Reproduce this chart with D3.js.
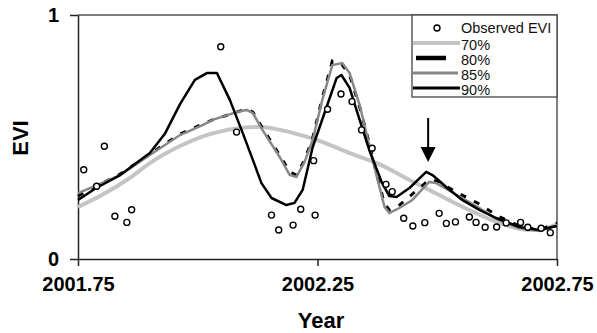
<!DOCTYPE html>
<html lang="en">
    <head>
        <meta charset="utf-8">
        <title>EVI fits</title>
        <script type="text/javascript" src="https://cdnjs.cloudflare.com/ajax/libs/d3/7.8.5/d3.min.js"></script>
        <style>
        body { margin: 0; background: #fff; }
        svg text { font-family: "Liberation Sans", Arial, sans-serif; }
        </style>
    </head>
    <body>
        <script type="text/javascript">

            //observed EVI samples
            var obsYear = [2001.762, 2001.789, 2001.805, 2001.827, 2001.852, 2001.862, 2002.048, 2002.081,
                2002.154, 2002.169, 2002.199, 2002.215, 2002.245, 2002.242, 2002.271, 2002.299, 2002.322,
                2002.342, 2002.364, 2002.393, 2002.406, 2002.430, 2002.449, 2002.474, 2002.504, 2002.519,
                2002.538, 2002.567, 2002.581, 2002.600, 2002.624, 2002.644, 2002.674, 2002.689, 2002.717, 2002.736];
            var obsEvi = [0.366, 0.298, 0.462, 0.175, 0.150, 0.202, 0.870, 0.520,
                0.180, 0.119, 0.139, 0.204, 0.180, 0.403, 0.614, 0.676, 0.645,
                0.529, 0.454, 0.306, 0.276, 0.167, 0.135, 0.149, 0.187, 0.146,
                0.152, 0.172, 0.150, 0.130, 0.131, 0.148, 0.150, 0.130, 0.126, 0.108];

            //fitted curves
            var year70 = [2001.750, 2001.796, 2001.858, 2001.900, 2001.963, 2002.025, 2002.088, 2002.129, 2002.192,
                2002.254, 2002.317, 2002.379, 2002.442, 2002.504, 2002.567, 2002.629, 2002.692, 2002.723, 2002.750];
            var evi70 = [0.213, 0.258, 0.332, 0.393, 0.463, 0.512, 0.537, 0.541, 0.520,
                0.484, 0.434, 0.389, 0.324, 0.262, 0.201, 0.148, 0.119, 0.123, 0.143];

            var year85 = [2001.750, 2001.790, 2001.838, 2001.900, 2001.963, 2002.010, 2002.031, 2002.081, 2002.102,
                2002.115, 2002.135, 2002.171, 2002.192, 2002.206, 2002.223, 2002.240, 2002.260, 2002.281, 2002.302,
                2002.317, 2002.338, 2002.358, 2002.373, 2002.390, 2002.400, 2002.421, 2002.448, 2002.483, 2002.498,
                2002.552, 2002.588, 2002.623, 2002.671, 2002.713, 2002.750];
            var evi85 = [0.270, 0.303, 0.344, 0.426, 0.508, 0.549, 0.570, 0.602, 0.611,
                0.598, 0.529, 0.418, 0.344, 0.336, 0.398, 0.488, 0.652, 0.795, 0.803,
                0.762, 0.631, 0.467, 0.344, 0.213, 0.189, 0.209, 0.242, 0.316, 0.311,
                0.250, 0.209, 0.164, 0.127, 0.115, 0.139];
            var evi80 = [0.258, 0.299, 0.348, 0.430, 0.512, 0.553, 0.570, 0.602, 0.615,
                0.602, 0.537, 0.426, 0.357, 0.344, 0.406, 0.496, 0.660, 0.811, 0.795,
                0.754, 0.623, 0.475, 0.352, 0.225, 0.201, 0.221, 0.266, 0.324, 0.320,
                0.262, 0.225, 0.180, 0.135, 0.119, 0.148];

            var year90 = [2001.750, 2001.788, 2001.838, 2001.900, 2001.931, 2001.963, 2001.994, 2002.019, 2002.040,
                2002.067, 2002.094, 2002.115, 2002.133, 2002.154, 2002.185, 2002.202, 2002.219, 2002.240, 2002.269,
                2002.290, 2002.300, 2002.317, 2002.338, 2002.358, 2002.385, 2002.400, 2002.415, 2002.442, 2002.477,
                2002.490, 2002.521, 2002.552, 2002.588, 2002.623, 2002.671, 2002.713, 2002.740, 2002.750];
            var evi90 = [0.242, 0.291, 0.344, 0.434, 0.512, 0.635, 0.734, 0.762, 0.762,
                0.652, 0.516, 0.406, 0.311, 0.250, 0.221, 0.230, 0.283, 0.459, 0.623,
                0.742, 0.754, 0.701, 0.570, 0.447, 0.311, 0.258, 0.254, 0.291, 0.357,
                0.344, 0.291, 0.242, 0.201, 0.168, 0.131, 0.119, 0.131, 0.135];

            var xTicks = [2001.75, 2002.25, 2002.75];
            var yTicks = [0, 1];
            var legendLabels = ["Observed EVI", "70%", "80%", "85%", "90%"];
            var arrowYear = 2002.481;   //arrow marks the small late hump
            var arrowEvi = [0.578, 0.398];

            var w = 597, h = 333;
            var margin = {left: 78, right: 40, top: 15, bottom: 74};

            var svg = d3.select("body").append("svg")
                        .attr("width", w)
                        .attr("height", h);

            var x = d3.scaleLinear().domain([2001.75, 2002.75]).range([margin.left, w - margin.right]);
            var y = d3.scaleLinear().domain([0, 1]).range([h - margin.bottom, margin.top]);

            //frame top and right
            svg.append("path")
                .attr("d", "M" + x(2001.75) + "," + y(1) + "H" + x(2002.75) + "V" + y(0))
                .attr("fill", "none")
                .attr("stroke", "#555")
                .attr("stroke-width", 1.5);

            var xAxis = svg.append("g")
                .attr("transform", "translate(0," + y(0) + ")")
                .call(d3.axisBottom(x).tickValues(xTicks).tickFormat(d3.format(".2f"))
                    .tickSize(7).tickSizeOuter(0).tickPadding(11));
            var yAxis = svg.append("g")
                .attr("transform", "translate(" + x(2001.75) + ",0)")
                .call(d3.axisLeft(y).tickValues(yTicks).tickFormat(d3.format("d"))
                    .tickSize(8).tickSizeOuter(0).tickPadding(11));

            [xAxis, yAxis].forEach(function(g) {
                g.select(".domain").attr("stroke", "#222").attr("stroke-width", 1.5);
                g.selectAll(".tick line").attr("stroke", "#222").attr("stroke-width", 1.5);
                g.selectAll(".tick text")
                    .attr("fill", "#000")
                    .attr("font-size", "20px")
                    .attr("font-weight", "bold")
                    .style("font-family", "'Liberation Sans', Arial, sans-serif");
            });

            svg.append("text")
                .attr("transform", "translate(28,138) rotate(-90)")
                .attr("text-anchor", "middle")
                .attr("font-size", "22px")
                .attr("font-weight", "bold")
                .text("EVI");

            svg.append("text")
                .attr("x", 321)
                .attr("y", 328)
                .attr("text-anchor", "middle")
                .attr("font-size", "22px")
                .attr("font-weight", "bold")
                .text("Year");

            //curves
            function series(years, vals) {
                return years.map(function(d, i) { return [d, vals[i]]; });
            }
            var line = d3.line().x(function(d) { return x(d[0]); }).y(function(d) { return y(d[1]); });
            var smooth = d3.line().curve(d3.curveMonotoneX)
                .x(function(d) { return x(d[0]); }).y(function(d) { return y(d[1]); });

            svg.append("path").datum(series(year70, evi70))
                .attr("d", smooth).attr("fill", "none")
                .attr("stroke", "#c4c4c4").attr("stroke-width", 4);
            svg.append("path").datum(series(year85, evi80))
                .attr("d", line).attr("fill", "none")
                .attr("stroke", "#000").attr("stroke-width", 3)
                .attr("stroke-dasharray", "6,9");
            svg.append("path").datum(series(year85, evi85))
                .attr("d", line).attr("fill", "none")
                .attr("stroke", "#888").attr("stroke-width", 2.5);
            svg.append("path").datum(series(year90, evi90))
                .attr("d", line).attr("fill", "none")
                .attr("stroke", "#000").attr("stroke-width", 2.5)
                .attr("stroke-linejoin", "round");

            svg.selectAll("circle.obs")
                .data(series(obsYear, obsEvi))
                .enter()
                .append("circle")
                .attr("class", "obs")
                .attr("cx", function(d) { return x(d[0]); })
                .attr("cy", function(d) { return y(d[1]); })
                .attr("r", 3)
                .attr("fill", "#fff")
                .attr("stroke", "#000")
                .attr("stroke-width", 1.4);

            //arrow
            var ax = x(arrowYear);
            svg.append("line")
                .attr("x1", ax).attr("x2", ax)
                .attr("y1", y(arrowEvi[0])).attr("y2", y(arrowEvi[1]) - 12)
                .attr("stroke", "#000").attr("stroke-width", 2);
            svg.append("path")
                .attr("d", "M" + (ax - 7.5) + "," + (y(arrowEvi[1]) - 15) + "L" + (ax + 7.5) + "," +
                    (y(arrowEvi[1]) - 15) + "L" + ax + "," + y(arrowEvi[1]) + "Z")
                .attr("fill", "#000");

            //legend
            var lg = svg.append("g").attr("transform", "translate(412,15)");
            lg.append("rect")
                .attr("width", 145).attr("height", 82)
                .attr("fill", "#fff").attr("stroke", "#444").attr("stroke-width", 1.3);
            var rowY = [13, 28, 43, 58, 73];
            var lstyle = [
                null,
                {c: "#c4c4c4", w: 4, x1: 1, x2: 48},
                {c: "#000", w: 4.5, x1: 4, x2: 34},
                {c: "#888", w: 3, x1: 1, x2: 46},
                {c: "#000", w: 3, x1: 1, x2: 48}
            ];
            legendLabels.forEach(function(t, i) {
                if (i === 0) {
                    lg.append("circle").attr("cx", 25).attr("cy", rowY[i])
                        .attr("r", 3).attr("fill", "#fff").attr("stroke", "#000").attr("stroke-width", 1.4);
                } else {
                    lg.append("line")
                        .attr("x1", lstyle[i].x1).attr("x2", lstyle[i].x2)
                        .attr("y1", rowY[i]).attr("y2", rowY[i])
                        .attr("stroke", lstyle[i].c).attr("stroke-width", lstyle[i].w);
                }
                lg.append("text")
                    .attr("x", 49)
                    .attr("y", rowY[i] + (i === 0 ? 5 : 7))
                    .attr("font-size", "14.5px")
                    .attr("fill", "#111")
                    .text(t);
            });

        </script>
    </body>
</html>
